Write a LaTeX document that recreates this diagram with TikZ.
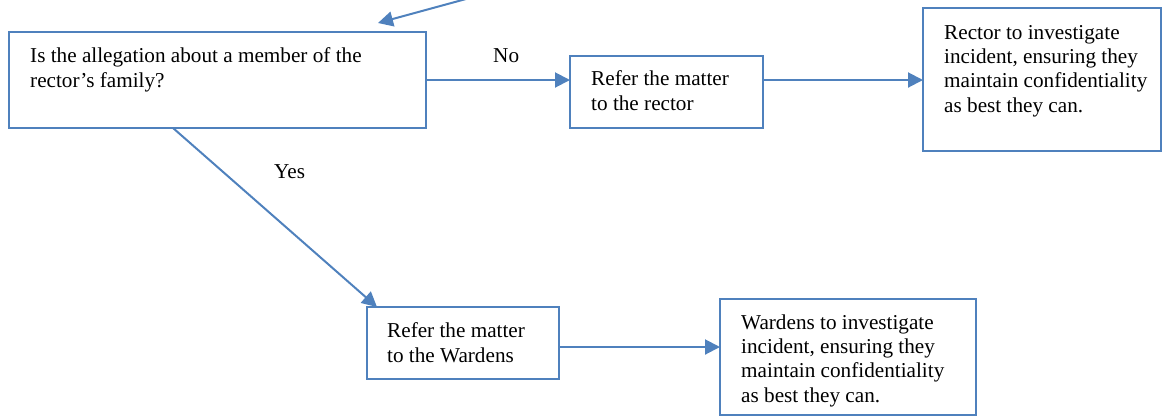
\documentclass[tikz,border=0pt]{standalone}
\usepackage{fontspec}
\setmainfont{Liberation Serif}
\usetikzlibrary{arrows.meta,calc}
\definecolor{ablue}{HTML}{4F81BD}
\begin{document}
\begin{tikzpicture}[x=1pt,y=-1pt,
  box/.style={draw=ablue,line width=2pt,rectangle,inner sep=0pt,outer sep=0pt,anchor=north west},
  txt/.style={anchor=base west,inner sep=0pt,align=left,font=\fontsize{21.2}{24.2}\selectfont},
  conn/.style={draw=ablue,line width=2pt,-{Triangle[length=15pt,width=15pt]}}]
\useasboundingbox (0,0) rectangle (1162,416);
% boxes
\node[box,minimum width=417pt,minimum height=96pt] (A) at (9,32) {};
\node[box,minimum width=193pt,minimum height=72pt] (B) at (570,56) {};
\node[box,minimum width=238pt,minimum height=143pt] (C) at (923,8) {};
\node[box,minimum width=192pt,minimum height=72pt] (D) at (367,307) {};
\node[box,minimum width=256pt,minimum height=116pt] (E) at (720,299) {};
% texts (anchored at the baseline of their last line)
\node[txt] (tA) at (30,87) {Is the allegation about a member of the\\rector’s family?};
\node[txt] (tB) at (591,110) {Refer the matter\\to the rector};
\node[txt] (tC) at (944,112) {Rector to investigate\\incident, ensuring they\\maintain confidentiality\\as best they can.};
\node[txt] (tD) at (387,362) {Refer the matter\\to the Wardens};
\node[txt] (tE) at (741,402) {Wardens to investigate\\incident, ensuring they\\maintain confidentiality\\as best they can.};
\node[txt] (no) at (493,62) {No};
\node[txt] (yes) at (274,178) {Yes};
% connectors
\coordinate (s0) at (466,-1);
\coordinate (t0) at (378,23);
\draw[conn] (s0) -- (t0);
\draw[conn] (A.east) -- (A.east -| B.west);
\draw[conn] (B.east |- A.east) -- (C.west |- A.east);
\draw[conn] ($(A.south west)+(164,0)$) -- ($(D.north west)+(10,0)$);
\coordinate (dE) at ($(D.east)+(0,4)$);
\draw[conn] (dE) -- (dE -| E.west);
\end{tikzpicture}
\end{document}
